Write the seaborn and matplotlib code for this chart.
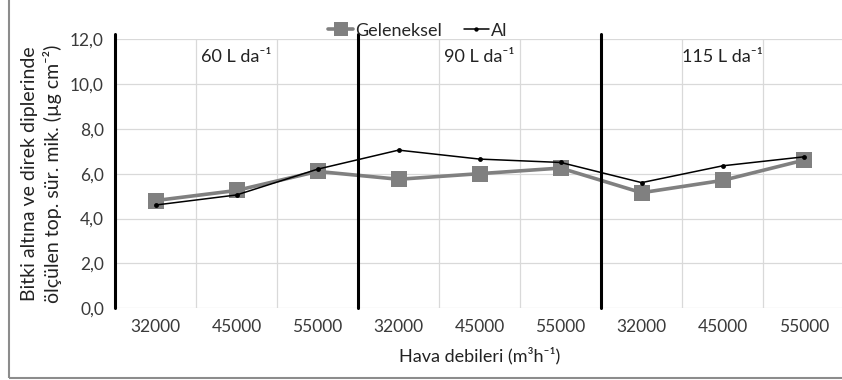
import matplotlib
matplotlib.use("Agg")
import matplotlib.pyplot as plt
import seaborn as sns
import pandas as pd
from matplotlib.patches import Rectangle

# data
air_flows = ["32000", "45000", "55000", "32000", "45000", "55000", "32000", "45000", "55000"]
doses = ["60 L da⁻¹", "90 L da⁻¹", "115 L da⁻¹"]
geleneksel = [4.8, 5.25, 6.1, 5.75, 6.0, 6.25, 5.15, 5.7, 6.6]
al = [4.6, 5.05, 6.2, 7.05, 6.65, 6.5, 5.6, 6.35, 6.75]

sns.set_style("white")
plt.rcParams["font.family"] = ["Lato", "DejaVu Sans"]

df = pd.DataFrame({
    "pos": list(range(len(air_flows))) * 2,
    "value": geleneksel + al,
    "series": ["Geleneksel"] * len(geleneksel) + ["Al"] * len(al),
})

fig = plt.figure(figsize=(8.42, 3.8), dpi=100)
ax = fig.add_axes([0.1366, 0.189, 0.866, 0.708])

sns.lineplot(data=df[df.series == "Geleneksel"], x="pos", y="value", ax=ax,
             color="#808080", lw=2.6, marker="s", markersize=11, markeredgewidth=0,
             label="Geleneksel", zorder=3)
sns.lineplot(data=df[df.series == "Al"], x="pos", y="value", ax=ax,
             color="black", lw=1.1, marker="o", markersize=3.5, markeredgewidth=0,
             label="Al", zorder=4)

ax.set_xlim(-0.5, len(air_flows) - 0.5)
ax.set_ylim(0, 12)
ax.set_yticks([0, 2, 4, 6, 8, 10, 12])
ax.set_yticklabels([f"{v:.1f}".replace(".", ",") for v in ax.get_yticks()])
ax.set_xticks(range(len(air_flows)))
ax.set_xticklabels(air_flows)
ax.tick_params(axis="both", length=0, labelsize=12.5, colors="#3a3a3a", pad=8)

# grid: horizontal at y ticks, vertical at category boundaries
for y in [0, 2, 4, 6, 8, 10, 12]:
    ax.axhline(y, color="#d9d9d9", lw=0.9, zorder=0)
for i in range(len(air_flows)):
    ax.axvline(i + 0.5, color="#d9d9d9", lw=0.9, zorder=0)

# thick separators between dose groups
for xb in [-0.5, 2.5, 5.5]:
    ax.plot([xb, xb], [0, 12.25], color="black", lw=2.2, clip_on=False, zorder=5)

for spine in ax.spines.values():
    spine.set_visible(False)

for k, d in enumerate(doses):
    ax.text(3 * k + 1, 11.2, d, ha="center", va="center", fontsize=13, color="#222222")

ax.set_xlabel("Hava debileri (m³h⁻¹)", fontsize=13, color="#222222", labelpad=8)
ax.set_ylabel("Bitki altına ve direk diplerinde\nölçülen top. sür. mik. (µg cm⁻²)",
              fontsize=14, color="#222222", labelpad=6, linespacing=1.3)

ax.legend(loc="lower center", bbox_to_anchor=(0.415, 0.975), ncol=2, frameon=False,
          fontsize=13, handlelength=1.4, handletextpad=0.1, columnspacing=1.2,
          borderaxespad=0, markerscale=0.9)

# outer chart frame (cropped at top and right in the reference)
fig.patches.append(Rectangle((0.011, 0.006), 1.2, 1.2, transform=fig.transFigure,
                             fill=False, edgecolor="#8c8c8c", lw=1.5))

fig.savefig("out.png", dpi=100)
